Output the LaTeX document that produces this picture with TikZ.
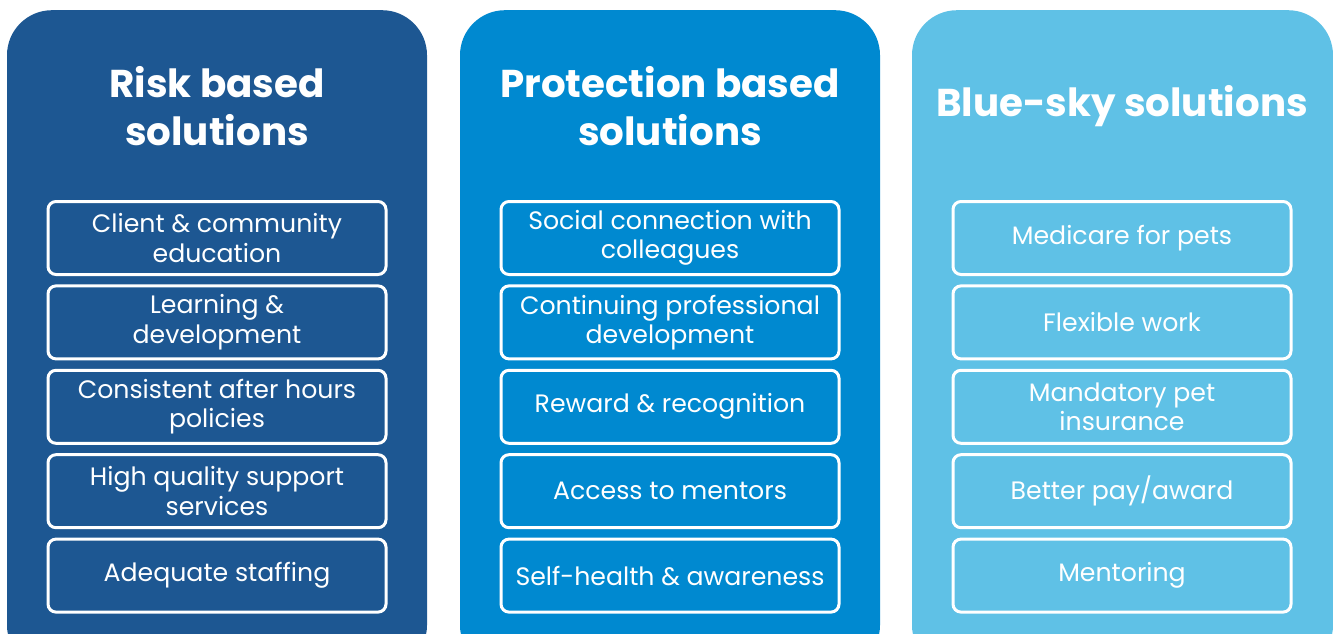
\documentclass[tikz,border=0pt]{standalone}
\usepackage{fontspec}
\setmainfont{Poppins}
\usepackage{tikz}
\definecolor{riskblue}{HTML}{1D5792}
\definecolor{protblue}{HTML}{0089D0}
\definecolor{skyblue}{HTML}{5FC1E6}
\tikzstyle{column}=[rounded corners=45pt, minimum width=420pt, minimum height=660pt, anchor=north, inner sep=0pt]
\tikzstyle{title}=[text=white, font=\fontsize{38.8}{48}\selectfont\bfseries, align=center]
\tikzstyle{item}=[draw=white, line width=3pt, rounded corners=8pt, minimum width=338pt, minimum height=73pt, inner sep=0pt, text=white, align=center, font=\fontsize{25.2}{29.5}\selectfont]

\begin{document}
\begin{tikzpicture}[x=1pt, y=-1pt]
  \useasboundingbox (0,0) rectangle (1333,634);
  \clip (0,0) rectangle (1333,634);
  \node[column, fill=riskblue] (risk) at (217,10) {};
  \node[column, fill=protblue] (prot) at (670,10) {};
  \node[column, fill=skyblue, minimum width=421pt] (sky) at (1122.5,10) {};

  \node[title] (risktitle) at (217,106) {Risk based\\solutions};
  \node[title] (prottitle) at (670,106) {Protection based\\solutions};
  \node[title] (skytitle) at (1122,106) {Blue-sky solutions};

  \foreach \txt [count=\i] in {{Client \& community\\education}, {Learning \&\\development},
      {Consistent after hours\\policies}, {High quality support\\services}, {Adequate staffing}}
    \node[item] (risk\i) at (217,153.6+84.4*\i) {\txt};
  \foreach \txt [count=\i] in {{Social connection with\\colleagues}, {Continuing professional\\development},
      {Reward \& recognition}, {Access to mentors}, {Self-health \& awareness}}
    \node[item] (prot\i) at (670,153.6+84.4*\i) {\txt};
  \foreach \txt [count=\i] in {{Medicare for pets}, {Flexible work},
      {Mandatory pet\\insurance}, {Better pay/award}, {Mentoring}}
    \node[item] (sky\i) at (1122,153.6+84.4*\i) {\txt};
\end{tikzpicture}
\end{document}
